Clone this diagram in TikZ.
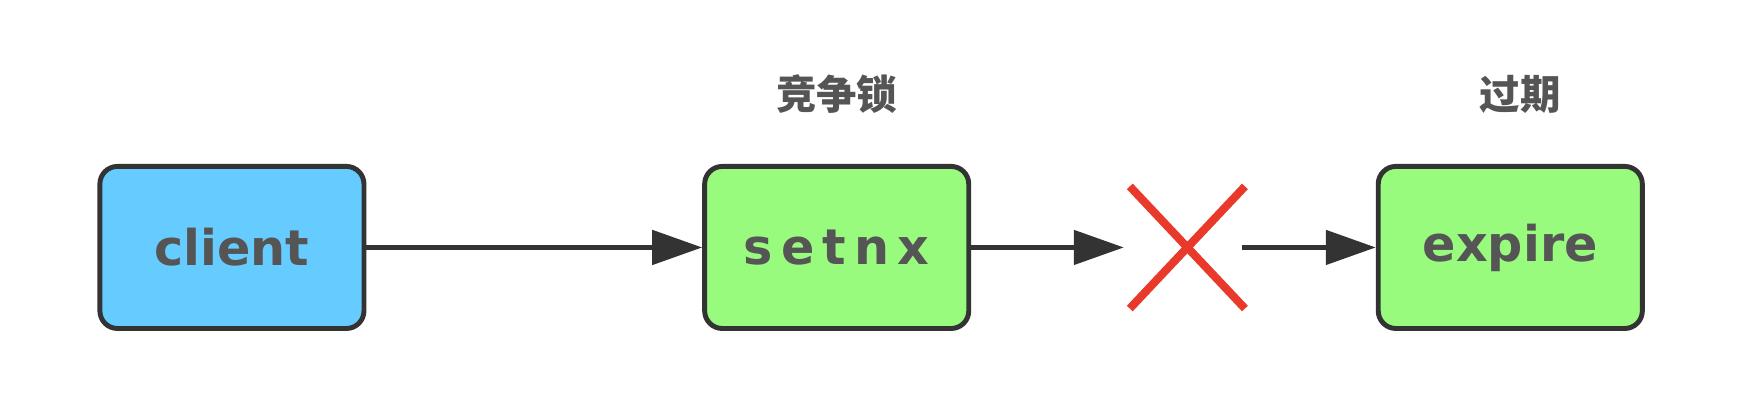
\documentclass[tikz,border=0pt]{standalone}
\usepackage{fontspec}
\setmainfont{DejaVu Sans}
\newfontfamily\cjk{Noto Sans CJK SC}
\usetikzlibrary{positioning,arrows.meta,shapes.misc}
\definecolor{boxline}{HTML}{333333}
\definecolor{clientblue}{HTML}{66CCFF}
\definecolor{lockgreen}{HTML}{98FB7E}
\definecolor{failred}{HTML}{E8392A}
\definecolor{textgray}{HTML}{555555}
\begin{document}
\begin{tikzpicture}[
  x=0.0111cm, y=-0.0111cm,
  stage/.style={rectangle, rounded corners=5pt, draw=boxline, line width=1.4pt, minimum width=2.64cm, minimum height=1.62cm, font=\bfseries\fontsize{14}{16}\selectfont, text=textgray},
  note/.style={font=\cjk\bfseries\fontsize{11.5}{14}\selectfont, text=textgray},
  flow/.style={-{Triangle[length=0.5cm, width=0.34cm]}, line width=1.4pt, draw=boxline, color=boxline}
]
\useasboundingbox (0,0) rectangle (1568,360);

% boxes
\node[stage, fill=clientblue] (client) at (209,223) {client};
\node[stage, fill=lockgreen] (setnx) at (754,223) {s\,e\,t\,n\,x};
\node[stage, fill=lockgreen] (expire) at (1361,223) {expire};

% labels
\node[note] (lockNote) at (754,85) {竞争锁};
\node[note] (expireNote) at (1370,85) {过期};

% failure mark
\node[cross out, draw=failred, line width=2.3pt, minimum width=1.07cm, minimum height=1.14cm, inner sep=0pt] (cross) at (1070,223) {};

% arrows
\draw[flow] (client) -- (setnx);
\draw[flow] (setnx) -- ([xshift=-0.06cm]cross.west);
\draw[flow] ([xshift=-0.03cm]cross.east) -- (expire);

\end{tikzpicture}
\end{document}
